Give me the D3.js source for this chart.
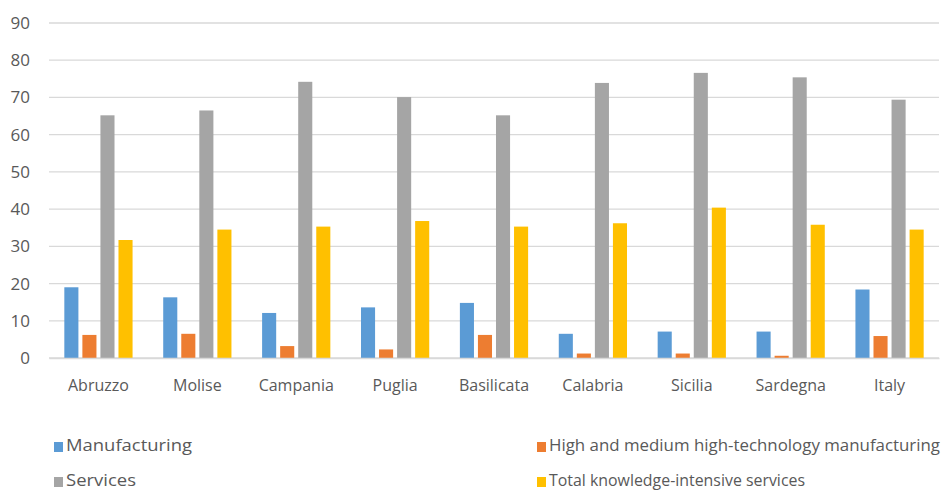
<!DOCTYPE html>
<html><head><meta charset="utf-8">
<script src="https://cdn.jsdelivr.net/npm/d3@7"></script>
<style>body{margin:0;background:#fff}svg{display:block}</style>
</head><body><svg id="c" width="942" height="490"></svg>
<script>
const categories = ["Abruzzo","Molise","Campania","Puglia","Basilicata","Calabria","Sicilia","Sardegna","Italy"];
const seriesNames = ["Manufacturing","High and medium high-technology manufacturing","Services","Total knowledge-intensive services"];
const manufacturing = [19.0,16.3,12.1,13.6,14.8,6.5,7.1,7.1,18.4];
const hightech = [6.2,6.5,3.2,2.3,6.2,1.2,1.2,0.6,5.9];
const services = [65.2,66.5,74.2,70.1,65.2,73.9,76.6,75.4,69.4];
const kis = [31.7,34.5,35.3,36.8,35.3,36.2,40.4,35.8,34.5];
const yTicks = [0,10,20,30,40,50,60,70,80,90];
const colors = ["#5b9bd5","#ed7d31","#a5a5a5","#ffc000"];
const seriesValues = [manufacturing, hightech, services, kis];

const svg = d3.select("#c");
const mLeft = 49, mRight = 939, mTop = 23, mBottom = 358;
const x0 = d3.scaleBand().domain(categories).range([mLeft, mRight]).paddingInner(0.31).paddingOuter(0.155);
const x1 = d3.scaleBand().domain(d3.range(4)).range([0, x0.bandwidth()]).paddingInner(0.22);
const y = d3.scaleLinear().domain([0, 90]).range([mBottom, mTop]);

// gridlines
svg.append("g").selectAll("line").data(yTicks).join("line")
  .attr("x1", mLeft).attr("x2", mRight)
  .attr("y1", d => y(d)).attr("y2", d => y(d))
  .attr("stroke", "#d9d9d9").attr("stroke-width", 1.3);

// y axis labels
const yAxis = d3.axisLeft(y).tickValues(yTicks).tickSize(0).tickPadding(0);
const gy = svg.append("g").attr("transform", "translate(30,0)").call(yAxis);
gy.select(".domain").remove();
gy.selectAll("text").attr("fill", "#595959").style("font-family", "'Open Sans', sans-serif").style("font-size", "17px");

// bars
const groups = svg.append("g").selectAll("g").data(categories).join("g")
  .attr("transform", d => `translate(${x0(d)},0)`);
groups.selectAll("rect").data((d, i) => seriesValues.map((s, k) => ({k, v: s[i]}))).join("rect")
  .attr("x", d => x1(d.k)).attr("width", x1.bandwidth())
  .attr("y", d => y(d.v)).attr("height", d => mBottom - y(d.v))
  .attr("fill", d => colors[d.k]);

// x axis
const xAxis = d3.axisBottom(x0).tickSize(0).tickPadding(0);
const gx = svg.append("g").attr("transform", `translate(0,${mBottom})`).call(xAxis);
gx.select(".domain").attr("stroke", "#d9d9d9").attr("stroke-width", 1.3);
gx.selectAll("text").attr("fill", "#595959").attr("dy", "0").attr("y", 33)
  .style("font-family", "'Open Sans', sans-serif").style("font-size", "16px");

// legend
const legendPos = [[54,451],[537,451],[54,486],[537,486]];
const legendWidths = [126, 391, 70, 256];
const lg = svg.append("g").selectAll("g").data(seriesNames).join("g")
  .attr("transform", (d, i) => `translate(${legendPos[i][0]},${legendPos[i][1]})`);
lg.append("rect").attr("x", 0).attr("y", -9).attr("width", 9).attr("height", 10).attr("fill", (d, i) => colors[i]);
lg.append("text").attr("x", 12).attr("y", 0).text(d => d)
  .attr("fill", "#595959").attr("textLength", (d, i) => legendWidths[i]).attr("lengthAdjust", "spacingAndGlyphs")
  .style("font-family", "'Open Sans', sans-serif").style("font-size", "17px");
</script></body></html>
